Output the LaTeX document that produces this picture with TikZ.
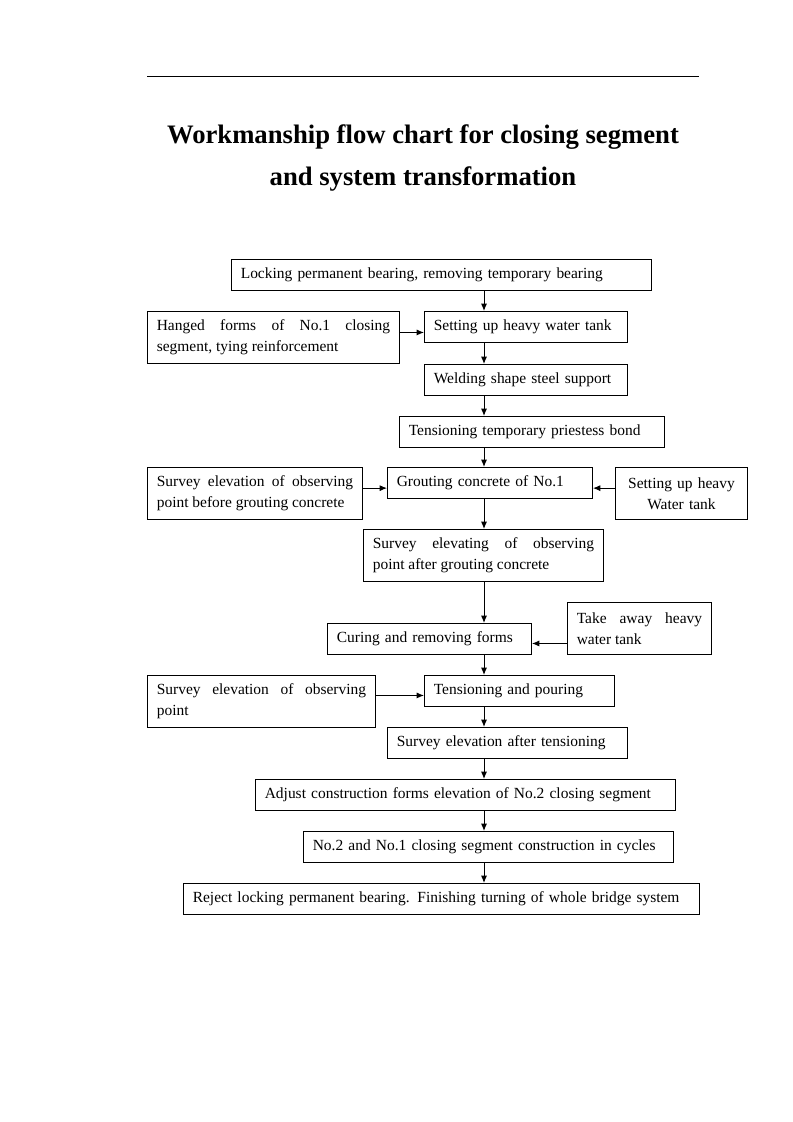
\documentclass[tikz,border=0pt]{standalone}
\usepackage{fontspec}
\setmainfont{Liberation Serif}
\usepackage{tikz}
\usetikzlibrary{shapes,arrows,arrows.meta,positioning,calc}

\tikzset{
    stepbox/.style={
        draw,
        line width=0.7pt,
        anchor=north west,
        align=left,
        inner xsep=7pt,
        inner ysep=0pt,
        minimum height=23.25pt,
        minimum width=#1,
        text width={#1-14pt},
        font=\fontsize{11.6}{15.75}\selectfont
    },
    twobox/.style={
        stepbox=#1,
        minimum height=39pt,
        align=justify
    },
    flow/.style={
        -{Latex[length=5.5pt,width=4.5pt]},
        line width=0.7pt
    }
}

\begin{document}
\begin{tikzpicture}[x=0.75pt,y=-0.75pt]
                \useasboundingbox (0,0) rectangle (793,1122);

                % page rule and title
                \draw[line width=0.7pt] (147,76) -- (699,76);
                \node[font=\fontsize{20}{24}\selectfont\bfseries] (title1) at (423,137) {Workmanship flow chart for closing segment};
                \node[font=\fontsize{20}{24}\selectfont\bfseries] (title2) at (423,179) {and system transformation};

                % main column
                \coordinate (col) at (484,0);

                \node[stepbox=315pt] (lock) at (231,259) {Locking permanent bearing, removing temporary bearing};
                \node[twobox=189pt] (hang) at (147,311) {Hanged forms of No.1 closing\linebreak segment, tying reinforcement};
                \node[stepbox=152.25pt] (setw) at (424,311) {Setting up heavy water tank};
                \node[stepbox=152.25pt] (weld) at (424,364) {Welding shape steel support};
                \node[stepbox=198.75pt] (tens) at (399,416) {Tensioning temporary priestess bond};
                \node[twobox=161.25pt] (sbef) at (147,467) {Survey elevation of observing\linebreak point before grouting concrete};
                \node[stepbox=153.75pt] (grout) at (387,467) {Grouting concrete of No.1};
                \node[twobox=99pt, align=center] (swat) at (615,467) {Setting up heavy\\Water tank};
                \node[twobox=180pt] (saft) at (363,529) {Survey elevating of observing\linebreak point after grouting concrete};
                \node[twobox=108pt] (take) at (567,602) {Take away heavy\linebreak water tank};
                \node[stepbox=153pt] (cure) at (327,623) {Curing and removing forms};
                \node[twobox=171pt] (sobs) at (147,675) {Survey elevation of observing\linebreak point};
                \node[stepbox=142.5pt] (tpour) at (424,675) {Tensioning and pouring};
                \node[stepbox=180pt] (saftt) at (387,727) {Survey elevation after tensioning};
                \node[stepbox=315pt] (adj) at (255,779) {Adjust construction forms elevation of No.2 closing segment};
                \node[stepbox=277.5pt] (cyc) at (303,831) {No.2 and No.1 closing segment construction in cycles};
                \node[stepbox=387pt] (rej) at (183,883) {Reject locking permanent bearing. Finishing turning of whole bridge system};

                % arrows down the column
                \draw[flow] (lock.south -| col) -- (setw.north -| col);
                \draw[flow] (setw.south -| col) -- (weld.north -| col);
                \draw[flow] (weld.south -| col) -- (tens.north -| col);
                \draw[flow] (tens.south -| col) -- (grout.north -| col);
                \draw[flow] (grout.south -| col) -- (saft.north -| col);
                \draw[flow] (saft.south -| col) -- (cure.north -| col);
                \draw[flow] (cure.south -| col) -- (tpour.north -| col);
                \draw[flow] (tpour.south -| col) -- (saftt.north -| col);
                \draw[flow] (saftt.south -| col) -- (adj.north -| col);
                \draw[flow] (adj.south -| col) -- (cyc.north -| col);
                \draw[flow] (cyc.south -| col) -- (rej.north -| col);

                % side inputs
                \draw[flow] ([yshift=3.75pt]hang.east) -- ([yshift=3.75pt]hang.east -| setw.west);
                \draw[flow] ([yshift=4pt]sbef.east) -- ([yshift=4pt]sbef.east -| grout.west);
                \draw[flow] ([yshift=4pt]swat.west) -- ([yshift=4pt]swat.west -| grout.east);
                \draw[flow] ([yshift=-11.25pt]take.west) -- ([yshift=-11.25pt]take.west -| cure.east);
                \draw[flow] ([yshift=4.5pt]sobs.east) -- ([yshift=4.5pt]sobs.east -| tpour.west);

            \end{tikzpicture}
\end{document}
